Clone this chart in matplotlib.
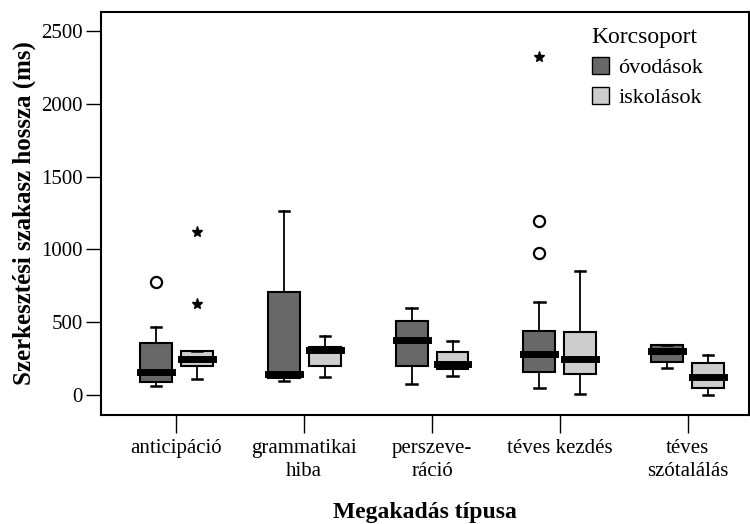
import matplotlib.pyplot as plt
from matplotlib.patches import Patch

# Kategóriák és dobozábra-statisztikák (ms)
kategoriak = ['anticipáció', 'grammatikai\nhiba', 'perszeve-\nráció', 'téves kezdés', 'téves\nszótalálás']

ovoda_also = [64, 95, 73, 48, 185]
ovoda_q1 = [89, 120, 201, 160, 225]
ovoda_median = [156, 145, 378, 282, 302]
ovoda_q3 = [359, 705, 508, 437, 343]
ovoda_felso = [465, 1266, 595, 641, 343]
ovoda_kiugro = [[778], [], [], [1197, 973], []]
ovoda_extrem = [[], [], [], [2318], []]

iskola_also = [108, 126, 133, 9, 0]
iskola_q1 = [201, 201, 176, 142, 46]
iskola_median = [247, 309, 211, 247, 126]
iskola_q3 = [302, 332, 293, 430, 222]
iskola_felso = [302, 405, 369, 854, 275]
iskola_kiugro = [[], [], [], [], []]
iskola_extrem = [[1122, 625], [], [], [], []]

SOTET = '#686868'
VILAGOS = '#cdcdcd'

plt.rcParams['font.family'] = ['Liberation Serif', 'DejaVu Serif']


def statok(also, q1, med, q3, felso):
    return [{'whislo': a, 'q1': b, 'med': c, 'q3': d, 'whishi': e, 'fliers': []}
            for a, b, c, d, e in zip(also, q1, med, q3, felso)]


fig = plt.figure(figsize=(7.5, 5.24), dpi=100)
ax = fig.add_axes([0.1347, 0.208, 0.864, 0.769])

pozicio = list(range(len(kategoriak)))
eltolas = 0.16
szelesseg = 0.25

csoportok = [
    (statok(ovoda_also, ovoda_q1, ovoda_median, ovoda_q3, ovoda_felso), -eltolas, SOTET, ovoda_kiugro, ovoda_extrem),
    (statok(iskola_also, iskola_q1, iskola_median, iskola_q3, iskola_felso), eltolas, VILAGOS, iskola_kiugro, iskola_extrem),
]

for st, dx, szin, kiugro, extrem in csoportok:
    pos = [p + dx for p in pozicio]
    ax.bxp(st, positions=pos, widths=szelesseg, capwidths=0.08, patch_artist=True,
           showfliers=False,
           boxprops=dict(facecolor=szin, edgecolor='black', linewidth=1.5),
           whiskerprops=dict(color='black', linewidth=1.3),
           capprops=dict(color='black', linewidth=1.8),
           medianprops=dict(color='black', linewidth=5, solid_capstyle='projecting'))
    for x, vals in zip(pos, kiugro):
        if vals:
            ax.plot([x] * len(vals), vals, linestyle='none', marker='o', markersize=8,
                    markerfacecolor='white', markeredgecolor='black', markeredgewidth=1.6)
    for x, vals in zip(pos, extrem):
        if vals:
            ax.plot([x] * len(vals), vals, linestyle='none', marker='*', markersize=8,
                    color='black')

ax.set_xlim(-0.59, 4.48)
ax.set_ylim(-137, 2630)
ax.set_yticks([0, 500, 1000, 1500, 2000, 2500])
ax.set_xticks(pozicio)
ax.set_xticklabels(kategoriak, fontsize=15, linespacing=1.3)
ax.tick_params(axis='y', labelsize=15, length=11, width=1.0, pad=2)
ax.tick_params(axis='x', length=13, width=1.0, pad=4)
for s in ax.spines.values():
    s.set_linewidth(1.5)

ax.set_ylabel('Szerkesztési szakasz hossza (ms)', fontsize=18, fontweight='bold', labelpad=4)
ax.set_xlabel('Megakadás típusa', fontsize=17, fontweight='bold', labelpad=15)

jelmagyarazat = [Patch(facecolor=SOTET, edgecolor='black', label='óvodások'),
                 Patch(facecolor=VILAGOS, edgecolor='black', label='iskolások')]
leg = ax.legend(handles=jelmagyarazat, title='Korcsoport', loc='upper left',
                bbox_to_anchor=(0.74, 0.99), frameon=False, fontsize=16,
                title_fontsize=17, alignment='left', handlelength=0.8,
                handleheight=0.8, handletextpad=0.4, borderpad=0, labelspacing=0.4)

fig.savefig('out.png', dpi=100)
